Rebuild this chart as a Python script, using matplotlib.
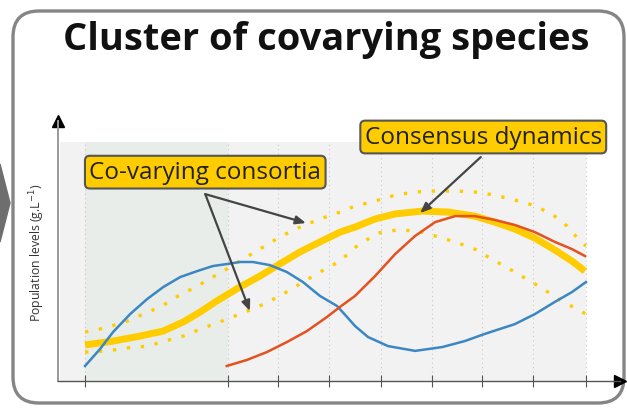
import numpy as np
import matplotlib.pyplot as plt
from matplotlib.patches import FancyBboxPatch, Polygon

# time axis (arbitrary units) and tick positions
ticks = [0, 2.86, 3.86, 4.88, 5.9, 6.92, 7.92, 8.94, 10]

blue_x = [0, 0.30, 0.56, 0.90, 1.24, 1.56, 1.90, 2.24, 2.55, 2.85, 3.09, 3.35, 3.69, 4.03,
          4.35, 4.69, 5.03, 5.23, 5.39, 5.65, 6.05, 6.59, 7.13, 7.58, 7.98, 8.58, 8.98,
          9.38, 9.72, 10.0]
blue_y = [0.63, 1.34, 2.05, 2.80, 3.43, 3.93, 4.35, 4.60, 4.81, 4.90, 4.98, 4.98, 4.85, 4.56,
          4.14, 3.56, 3.14, 2.68, 2.30, 1.84, 1.46, 1.26, 1.42, 1.67, 1.97, 2.38, 2.80,
          3.31, 3.72, 4.14]

orange_x = [2.83, 3.23, 3.63, 4.03, 4.43, 4.83, 5.09, 5.39, 5.79, 6.19, 6.59, 6.99, 7.39,
            7.78, 8.18, 8.58, 8.98, 9.38, 9.72, 9.98]
orange_y = [0.63, 0.88, 1.21, 1.63, 2.09, 2.68, 3.10, 3.56, 4.39, 5.31, 6.07, 6.65, 6.90,
            6.90, 6.74, 6.53, 6.23, 5.82, 5.52, 5.23]

cons_x = [0, 0.56, 1.10, 1.56, 1.96, 2.30, 2.63, 3.09, 3.49, 3.89, 4.29, 4.69, 5.09, 5.39,
          5.79, 6.19, 6.73, 7.25, 7.78, 8.18, 8.58, 8.98, 9.38, 9.72, 9.98]
cons_y = [1.51, 1.67, 1.88, 2.09, 2.47, 2.89, 3.35, 3.93, 4.39, 4.90, 5.40, 5.82, 6.23, 6.44,
          6.78, 6.99, 7.11, 7.07, 6.90, 6.65, 6.36, 5.98, 5.48, 5.02, 4.60]

upper_x = [0, 0.40, 0.80, 1.16, 1.54, 1.86, 2.24, 2.55, 2.73, 3.09, 3.49, 3.89, 4.29, 4.69,
           5.09, 5.39, 5.79, 6.19, 6.59, 6.99, 7.39, 7.78, 8.18, 8.58, 8.94, 9.32, 9.62,
           9.88, 10.0]
upper_y = [2.05, 2.22, 2.47, 2.80, 3.14, 3.56, 3.97, 4.35, 4.56, 5.02, 5.52, 6.03, 6.44, 6.78,
           7.07, 7.32, 7.53, 7.78, 7.91, 7.95, 7.95, 7.91, 7.78, 7.57, 7.36, 6.99, 6.49,
           5.86, 5.65]

lower_x = [0, 0.44, 0.84, 1.24, 1.60, 1.96, 2.36, 2.69, 3.09, 3.49, 3.89, 4.29, 4.69, 5.09,
           5.45, 5.85, 6.23, 6.63, 6.99, 7.39, 7.78, 8.12, 8.44, 8.78, 9.12, 9.48, 9.82, 10.0]
lower_y = [1.21, 1.26, 1.38, 1.46, 1.67, 1.88, 2.22, 2.47, 2.80, 3.14, 3.56, 4.06, 4.56, 5.02,
           5.69, 6.19, 6.32, 6.28, 6.07, 5.82, 5.52, 5.10, 4.73, 4.31, 3.89, 3.39, 3.01, 2.80]

W, H = 627, 410
fig = plt.figure(figsize=(W / 100, H / 100), dpi=100)

# background overlay in pixel units: frame, side arrow, title, y label
bg = fig.add_axes([0, 0, 1, 1], zorder=0)
bg.set_xlim(0, W)
bg.set_ylim(H, 0)
bg.axis('off')
bg.add_patch(Polygon([(0, 165), (10, 204), (0, 243)], closed=True, color='#6e6e6e'))
bg.add_patch(FancyBboxPatch((13, 12), 611, 392, boxstyle='round,pad=0,rounding_size=26',
                            facecolor='white', edgecolor='#858585', lw=2.4))
bg.text(326, 50, 'Cluster of covarying species', ha='center', va='baseline',
        fontsize=27.4, fontweight='bold', family='Open Sans', color='#111111')
bg.text(37, 253, 'Population levels (g.L$^{-1}$)', rotation=90, ha='center', va='center',
        fontsize=8.8, color='#333333', family='Open Sans')

# main axes
ax = fig.add_axes([58 / W, (H - 382) / H, (620 - 58) / W, (382 - 122) / H], zorder=1)
ax.set_facecolor('none')
ax.set_xlim(-0.54, 10.68)
ax.set_ylim(0, 10.88)

ax.fill_between([-0.5, 10], 0, 10, color='#f2f2f2', lw=0, zorder=0)
ax.fill_between([0, 2.86], 0, 10, color='#e9ede9', lw=0, zorder=0)
ax.vlines(ticks, 0, 10, colors='#c8c8c8', linestyles=(0, (1, 3)), lw=0.8, zorder=1)

dots = (0, (1, 3.2))
ax.plot(upper_x, upper_y, color='#ffcc00', lw=2.4, ls=dots, zorder=2)
ax.plot(lower_x, lower_y, color='#ffcc00', lw=2.4, ls=dots, zorder=2)
ax.plot(cons_x, cons_y, color='#ffcc00', lw=5, solid_capstyle='butt',
        solid_joinstyle='round', zorder=3)
ax.plot(blue_x, blue_y, color='#3a87c4', lw=1.8, solid_joinstyle='round', zorder=4)
ax.plot(orange_x, orange_y, color='#e4521f', lw=1.8, solid_joinstyle='round', zorder=4)

# axes with arrow heads
for s in ['top', 'right']:
    ax.spines[s].set_visible(False)
ax.spines['left'].set_color('#999999')
ax.spines['left'].set_linewidth(1.4)
ax.spines['bottom'].set_color('#555555')
ax.spines['bottom'].set_linewidth(1.0)
ax.plot(1, 0, marker='>', ms=9, color='k', transform=ax.transAxes, clip_on=False)
ax.plot(0, 1, marker='^', ms=9, color='k', transform=ax.transAxes, clip_on=False)
ax.set_xticks(ticks)
ax.set_xticklabels([])
ax.set_yticks([])
ax.tick_params(axis='x', direction='inout', length=9, width=0.8, color='#555555')

# annotations
box = dict(boxstyle='round,pad=0.18,rounding_size=0.2', fc='#ffcc00', ec='#555555', lw=1.5)
arrow = dict(arrowstyle='-|>,head_length=0.6,head_width=0.25', color='#444444', lw=1.6,
             shrinkA=0, shrinkB=0)
ax.annotate('', xy=(4.41, 6.61), xytext=(2.40, 7.82), arrowprops=arrow, zorder=5)
ax.annotate('', xy=(3.29, 2.93), xytext=(2.40, 7.82), arrowprops=arrow, zorder=5)
ax.annotate('', xy=(6.69, 7.03), xytext=(7.90, 9.37), arrowprops=arrow, zorder=5)
ax.text(2.4, 8.74, 'Co-varying consortia', ha='center', va='center', fontsize=17.5,
        family='Open Sans', color='#222222', bbox=box, zorder=6)
ax.text(7.95, 10.21, 'Consensus dynamics', ha='center', va='center', fontsize=17.5,
        family='Open Sans', color='#222222', bbox=box, zorder=6, clip_on=False)

fig.savefig('out.png', dpi=100)
